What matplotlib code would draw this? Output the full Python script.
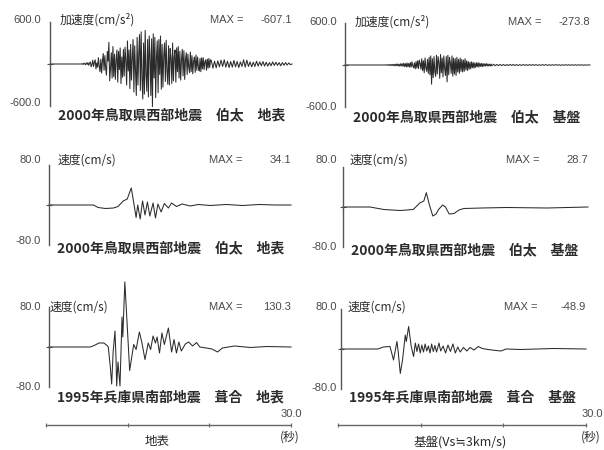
import numpy as np
import matplotlib.pyplot as plt

plt.rcParams['font.family'] = ['Noto Sans CJK JP', 'DejaVu Sans']

W, H = 604, 450

# ---- 2000年鳥取県西部地震 伯太 地表, 加速度 (cm/s2) ----
# 0.1 s steps from 4.0 s to 19.9 s
acc_surf_fine = [
    5, -8, 12, 3, -10, 15, -6, 20, -18, 8,
    30, -40, -10, 55, -35, 20, 60, -70, 15, -45,
    90, -30, -110, 70, -130, 40, 150, -90, 120, -60,
    -160, 180, 40, 310, -240, -60, 160, -200, 250, -180,
    140, -220, 60, 200, -260, 180, -80, 230, -280, 100,
    -190, 210, -170, 240, 50, -300, 330, -100, 200, -350,
    280, -230, 90, 350, -400, 260, -120, -450, 380, -300,
    150, 420, -380, 460, -200, -500, 300, -430, 480, -150,
    -390, 350, -470, 400, 120, -450, 360, -607.1, 430, -200,
    380, -480, 100, 330, -410, 350, -150, 400, -360, 280,
    -330, 120, 300, -250, 340, -100, -290, 260, -300, 220,
    80, -280, 300, -240, 100, 200, -260, 230, -110, 250,
    -200, 180, -230, 60, 210, -170, 190, -220, 70, 160,
    -150, 140, -50, -120, 170, -110, 120, -140, 40, 100,
    -120, 130, -90, 100, -50, -100, 80, -110, 90, -70,
    90, -80, 30, 60, -90, 70, -60, 80, -50, 60,
]
# 0.2 s steps from 20.0 s to 29.8 s
acc_surf_tail = [
    50, -60, 40, -55, 45,
    -40, 55, -35, 60, -45,
    40, -50, 35, -45, 50,
    -40, 35, -50, 30, -35,
    60, -45, 55, -35, 30,
    -40, 25, -35, 40, -30,
    30, -25, 35, -30, 25,
    -30, 20, -25, 30, -20,
    25, -20, 20, -25, 20,
    -18, 20, -15, 15, -10,
]

# ---- 2000年鳥取県西部地震 伯太 基盤, 加速度 (cm/s2) ----
# 0.1 s steps from 5.0 s to 17.9 s
acc_base_fine = [
    3, -4, 5, -5, 6, -6, 8, -7, 8, -9,
    10, -12, 12, -10, 15, -14, 12, -16, 18, -15,
    20, -18, 25, -22, 20, -28, 30, -25, 22, -30,
    35, -30, 45, -10, -40, 30, -55, 50, -45, 60,
    -50, 70, 20, -60, 90, -80, 60, -110, 100, -40,
    -90, 80, -120, 110, -140, 130, -273.8, 90, -180, 120,
    -100, -160, 140, -130, 120, 40, -190, 150, -110, 100,
    -170, 130, -50, -150, 120, -240, 140, -140, 110, 30,
    -120, 130, -160, 100, -130, 90, -150, 110, -100, 80,
    -120, 100, -90, 80, -100, 70, -90, 90, -70, 60,
    -80, 50, -60, 40, -55, 45, -40, 35, -45, 30,
    -35, 30, -25, 35, -30, 25, -20, 22, -25, 20,
    -18, 18, -15, 20, -16, 15, -14, 12, -15, 14,
]
# 0.2 s steps from 18.0 s to 29.8 s
acc_base_tail = [
    -12, 10, -10, 8, -9,
    8, -8, 7, -9, 6,
    -7, 8, -6, 7, -8,
    6, -7, 5, -6, 7,
    -6, 5, -7, 6, -5,
    6, -5, 5, -6, 4,
    -5, 5, -4, 6, -5,
    4, -5, 4, -4, 5,
    -4, 4, -5, 3, -4,
    4, -3, 4, -4, 3,
    -3, 3, -4, 3, -3,
    3, -3, 2, -3, 2,
]

# ---- 2000年 伯太 地表, 速度 (cm/s) ----
vel_surf_t = [0, 5.5, 6.1, 7.0, 8.0, 8.55, 9.2, 9.7, 10.2, 10.45, 10.8, 11.0, 11.3,
              11.6, 11.9, 12.2, 12.5, 12.9, 13.2, 13.5, 13.9, 14.3, 14.8, 15.2,
              15.8, 16.5, 17.5, 18.5, 20, 22, 24, 26, 28, 30]
vel_surf_v = [0, 0, -5, -7, -6, -3, 8, 12, 34.1, 10, -25, 0, -28,
              8, -20, 6, -22, 4, -26, 2, -14, 3, -6, 4,
              -3, 2, -2, 1, -1, 1, -1, 1, 0, 0]

# ---- 2000年 伯太 基盤, 速度 (cm/s) ----
vel_base_t = [0, 3.3, 5.0, 7.0, 8.6, 9.4, 9.9, 10.2, 10.6, 11.0, 11.4, 11.7,
              12.2, 12.55, 13.0, 13.6, 14.2, 14.8, 17.0, 20, 25, 30]
vel_base_v = [0, 0, -5, -7, -5, 8, 12, 28.7, 3, -18, -14, -5,
              4, 0, -14, -13, -6, -3, -2, -1, -2, 0]

# ---- 1995年兵庫県南部地震 葺合 地表, 速度 (cm/s) ----
kobe_surf_t = [0, 5.1, 5.6, 6.2, 6.8, 7.2, 7.35, 7.6, 7.77, 7.95, 8.18, 8.3,
               8.39, 8.55, 8.8, 9.05, 9.15, 9.4, 10.0, 10.5, 10.8, 11.2, 11.5,
               11.9, 12.3, 12.6, 12.9, 13.2, 13.4, 13.7, 14.0, 14.3, 14.8, 15.2,
               15.5, 15.8, 16.1, 16.4, 16.9, 17.3, 17.8, 18.3, 18.7, 19.5, 20.2,
               20.9, 21.5, 23, 25, 27, 30]
kobe_surf_v = [0, 0, 3, 8, 8, 3, 0, -40, -74, -10, 32, -20,
               -78, -30, -78, 60, 20, 130.3, -47, 5, -5, 30, 10,
               -25, 8, -5, 22, 8, 20, -12, 28, 5, 38, -10,
               15, -12, 10, -8, 6, 10, 2, 9, 0, -2, -4,
               -10, -2, 2, -1, 1, 0]

# ---- 1995年 葺合 基盤, 速度 (cm/s) ----
kobe_base_t = [0, 4.5, 5.2, 6.0, 6.43, 6.85, 7.0, 7.26, 7.55, 7.87, 8.0, 8.28,
               8.6, 8.89, 9.1, 9.3, 9.5, 9.7, 9.9, 10.1, 10.3, 10.5, 10.7, 10.9,
               11.1, 11.3, 11.5, 11.7, 12.0, 12.2, 12.5, 12.8, 13.1, 13.4, 13.7,
               14.0, 14.3, 14.6, 15.0, 15.4, 15.8, 16.3, 16.8, 17.3, 18.0, 19.0,
               19.6, 20.2, 22, 26, 30]
kobe_base_v = [0, 0, 4, 5, -22, 15, -5, -48.9, -20, 28, 15, 45,
               5, -15, 12, -5, 10, -8, 8, -6, 10, -4, 6, -8,
               10, -5, 7, -6, 12, -4, 6, -8, 8, -5, 10,
               -8, 4, -6, 3, -4, 3, -2, 5, 1, -1, -3,
               -4, 0, -1, 1, 0]


def series(t0, fine, step_fine, tail_t0, tail, step_tail):
    t = [0.0, t0 - step_fine]
    v = [0.0, 0.0]
    t += list(t0 + step_fine * np.arange(len(fine)))
    v += fine
    t += list(tail_t0 + step_tail * np.arange(len(tail)))
    v += tail
    t.append(30.0)
    v.append(0.0)
    return t, v


panels = [
    # x0, x1, y-centre, half height (px), limit, title, max text, caption, data
    (50, 292, 64, 42, 600, '加速度(cm/s²)', '-607.1',
     '2000年鳥取県西部地震　伯太　地表',
     series(4.0, acc_surf_fine, 0.1, 20.0, acc_surf_tail, 0.2)),
    (345, 590, 65, 42, 600, '加速度(cm/s²)', '-273.8',
     '2000年鳥取県西部地震　伯太　基盤',
     series(5.0, acc_base_fine, 0.1, 18.0, acc_base_tail, 0.2)),
    (49, 291, 205, 40, 80, '速度(cm/s)', '34.1',
     '2000年鳥取県西部地震　伯太　地表', (vel_surf_t, vel_surf_v)),
    (343, 588, 207, 40, 80, '速度(cm/s)', '28.7',
     '2000年鳥取県西部地震　伯太　基盤', (vel_base_t, vel_base_v)),
    (49, 291, 347, 40, 80, '速度(cm/s)', '130.3',
     '1995年兵庫県南部地震　葺合　地表', (kobe_surf_t, kobe_surf_v)),
    (341, 586, 349, 40, 80, '速度(cm/s)', '-48.9',
     '1995年兵庫県南部地震　葺合　基盤', (kobe_base_t, kobe_base_v)),
]

# label placements (px)
top_lab_y = [20, 22, 160, 160, 307, 307]
bot_lab_y = [103, 107, 241, 247, 387, 388]
cap_y = [115, 117, 248, 250, 398, 398]
title_x = [60, 355, 58, 350, 50, 348]

ink = '#2b2b2b'
grey = '#4a4a4a'

fig = plt.figure(figsize=(W / 100, H / 100), dpi=100)
fig.patch.set_facecolor('white')


def fx(x):
    return x / W


def fy(y):
    return 1 - y / H


for i, (x0, x1, yc, h, lim, title, mx, cap, (t, v)) in enumerate(panels):
    ax = fig.add_axes([fx(x0), fy(yc + h), (x1 - x0) / W, 2 * h / H])
    ax.set_xlim(0, 30)
    ax.set_ylim(-lim, lim)
    ax.plot(t, v, color=ink, lw=0.75, clip_on=False)
    for s in ['top', 'right', 'bottom']:
        ax.spines[s].set_visible(False)
    ax.spines['left'].set_color('#555555')
    ax.spines['left'].set_linewidth(1.0)
    ax.set_xticks([])
    ax.set_yticks([0])
    ax.set_yticklabels([])
    ax.tick_params(axis='y', length=4, direction='inout', color='#555555')
    ax.patch.set_alpha(0)

    right = x0 > 300
    lab_x = 337 if right else 41
    lab = '%.1f' % lim
    fig.text(fx(lab_x), fy(top_lab_y[i]), lab, ha='right', va='center',
             fontsize=8, color=grey, family=['Liberation Sans'])
    fig.text(fx(lab_x), fy(bot_lab_y[i]), '-' + lab, ha='right', va='center',
             fontsize=8, color=grey, family=['Liberation Sans'])
    fig.text(fx(title_x[i]), fy(top_lab_y[i]), title, ha='left', va='center',
             fontsize=8.5, color=ink)
    fig.text(fx(x1 - 82), fy(top_lab_y[i]), 'MAX =', ha='left', va='center',
             fontsize=8, color=grey, family=['Liberation Sans'])
    fig.text(fx(x1), fy(top_lab_y[i]), mx, ha='right', va='center',
             fontsize=8, color=grey, family=['Liberation Sans'])
    fig.text(fx(x0 + 8), fy(cap_y[i]), cap, ha='left', va='center',
             fontsize=10, color=ink, weight='bold')

# time axes below the bottom row
for x0, x1, lab, lab_x, sec_x in [(46, 291, '地表', 145, 302),
                                  (338, 586, '基盤(Vs≒3km/s)', 413, 603)]:
    ta = fig.add_axes([fx(x0), fy(425), (x1 - x0) / W, 2 / H])
    ta.set_xlim(0, 30)
    ta.set_ylim(0, 1)
    for s in ['top', 'right', 'left']:
        ta.spines[s].set_visible(False)
    ta.spines['bottom'].set_color('#666666')
    ta.spines['bottom'].set_linewidth(1.0)
    ta.set_xticks([0, 10, 20, 30])
    ta.set_xticklabels([])
    ta.set_yticks([])
    ta.tick_params(axis='x', length=3, direction='inout', color='#666666')
    ta.patch.set_alpha(0)
    fig.text(fx(sec_x), fy(414), '30.0', ha='right', va='center',
             fontsize=8, color=grey, family=['Liberation Sans'])
    fig.text(fx(sec_x - 2), fy(437), '(秒)', ha='right', va='center',
             fontsize=8.5, color=ink)
    fig.text(fx(lab_x), fy(442), lab, ha='left', va='center',
             fontsize=9, color=ink)

fig.savefig('out.png', dpi=100, facecolor='white')
